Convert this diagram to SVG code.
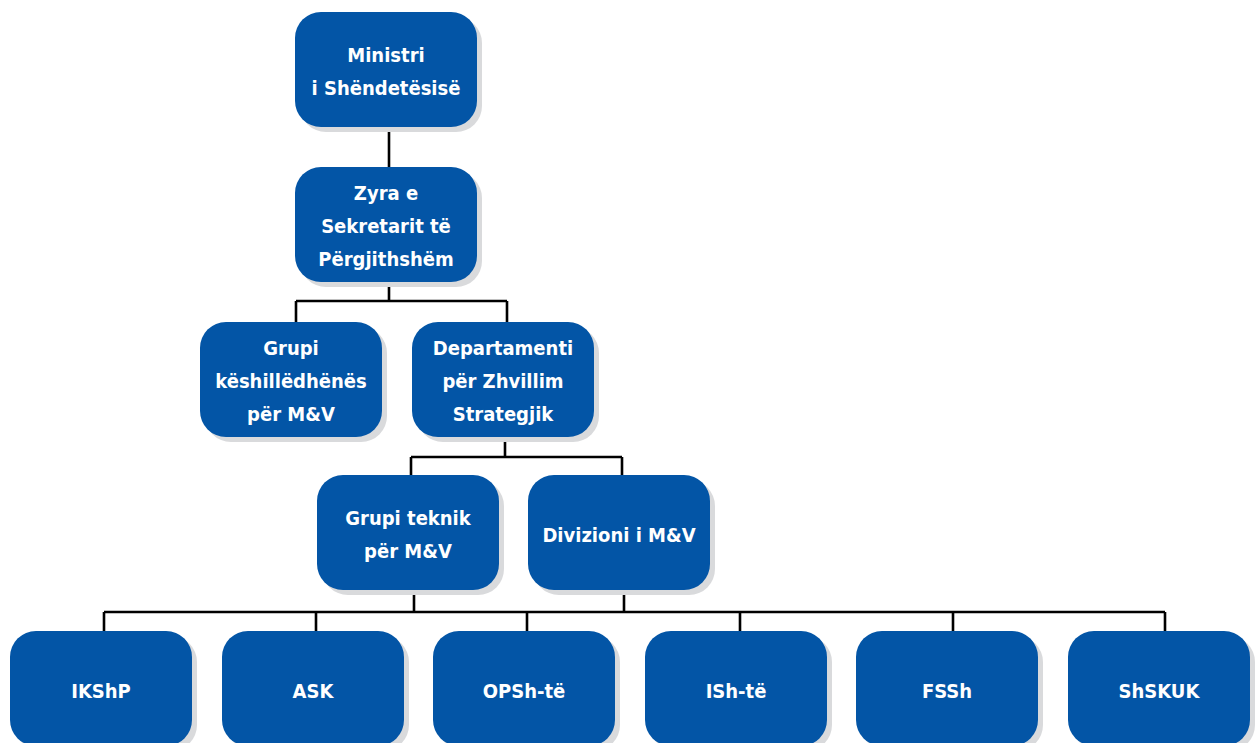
<svg xmlns="http://www.w3.org/2000/svg" width="1256" height="743" viewBox="0 0 1256 743">
<style>
.sh{fill:#d9dadc}
.bx{fill:#0355a6}
.t{fill:#ffffff;font-family:"DejaVu Sans Condensed","DejaVu Sans",sans-serif;font-stretch:condensed;font-weight:bold;font-size:20px;text-anchor:middle}
.c{stroke:#000;stroke-width:2.6;fill:none}
</style>
<defs>
<rect id="b" x="0" y="0" width="182" height="115" rx="26" ry="26"/>
</defs>
<rect width="1256" height="743" fill="#fff"/>
<g id="connectors" class="c">
<path d="M389 130V167"/>
<path d="M389 285V301M296 301H507M296 301V322M507 301V322"/>
<path d="M505 440V457M411 457H622M411 457V475M622 457V475"/>
<path d="M414 595V612M624 595V612M104 612H1165M104 612V631M316 612V631M527 612V631M740 612V631M953 612V631M1165 612V631"/>
</g>
<g id="n1"><use href="#b" class="sh" x="300" y="17"/><use href="#b" class="bx" x="295" y="12"/><text class="t" x="386" y="62">Ministri</text><text class="t" x="386" y="95">i Shëndetësisë</text></g>
<g id="n2"><use href="#b" class="sh" x="300" y="172"/><use href="#b" class="bx" x="295" y="167"/><text class="t" x="386" y="200">Zyra e</text><text class="t" x="386" y="233">Sekretarit të</text><text class="t" x="386" y="266">Përgjithshëm</text></g>
<g id="n3"><use href="#b" class="sh" x="205" y="327"/><use href="#b" class="bx" x="200" y="322"/><text class="t" x="291" y="355">Grupi</text><text class="t" x="291" y="388">këshillëdhënës</text><text class="t" x="291" y="421">për M&amp;V</text></g>
<g id="n4"><use href="#b" class="sh" x="417" y="327"/><use href="#b" class="bx" x="412" y="322"/><text class="t" x="503" y="355">Departamenti</text><text class="t" x="503" y="388">për Zhvillim</text><text class="t" x="503" y="421">Strategjik</text></g>
<g id="n5"><use href="#b" class="sh" x="322" y="480"/><use href="#b" class="bx" x="317" y="475"/><text class="t" x="408" y="525">Grupi teknik</text><text class="t" x="408" y="558">për M&amp;V</text></g>
<g id="n6"><use href="#b" class="sh" x="533" y="480"/><use href="#b" class="bx" x="528" y="475"/><text class="t" x="619" y="542">Divizioni i M&amp;V</text></g>
<g id="n7"><use href="#b" class="sh" x="15" y="636"/><use href="#b" class="bx" x="10" y="631"/><text class="t" x="101" y="698">IKShP</text></g>
<g id="n8"><use href="#b" class="sh" x="227" y="636"/><use href="#b" class="bx" x="222" y="631"/><text class="t" x="313" y="698">ASK</text></g>
<g id="n9"><use href="#b" class="sh" x="438" y="636"/><use href="#b" class="bx" x="433" y="631"/><text class="t" x="524" y="698">OPSh-të</text></g>
<g id="n10"><use href="#b" class="sh" x="650" y="636"/><use href="#b" class="bx" x="645" y="631"/><text class="t" x="736" y="698">ISh-të</text></g>
<g id="n11"><use href="#b" class="sh" x="861" y="636"/><use href="#b" class="bx" x="856" y="631"/><text class="t" x="947" y="698">FSSh</text></g>
<g id="n12"><use href="#b" class="sh" x="1073" y="636"/><use href="#b" class="bx" x="1068" y="631"/><text class="t" x="1159" y="698">ShSKUK</text></g>
</svg>
